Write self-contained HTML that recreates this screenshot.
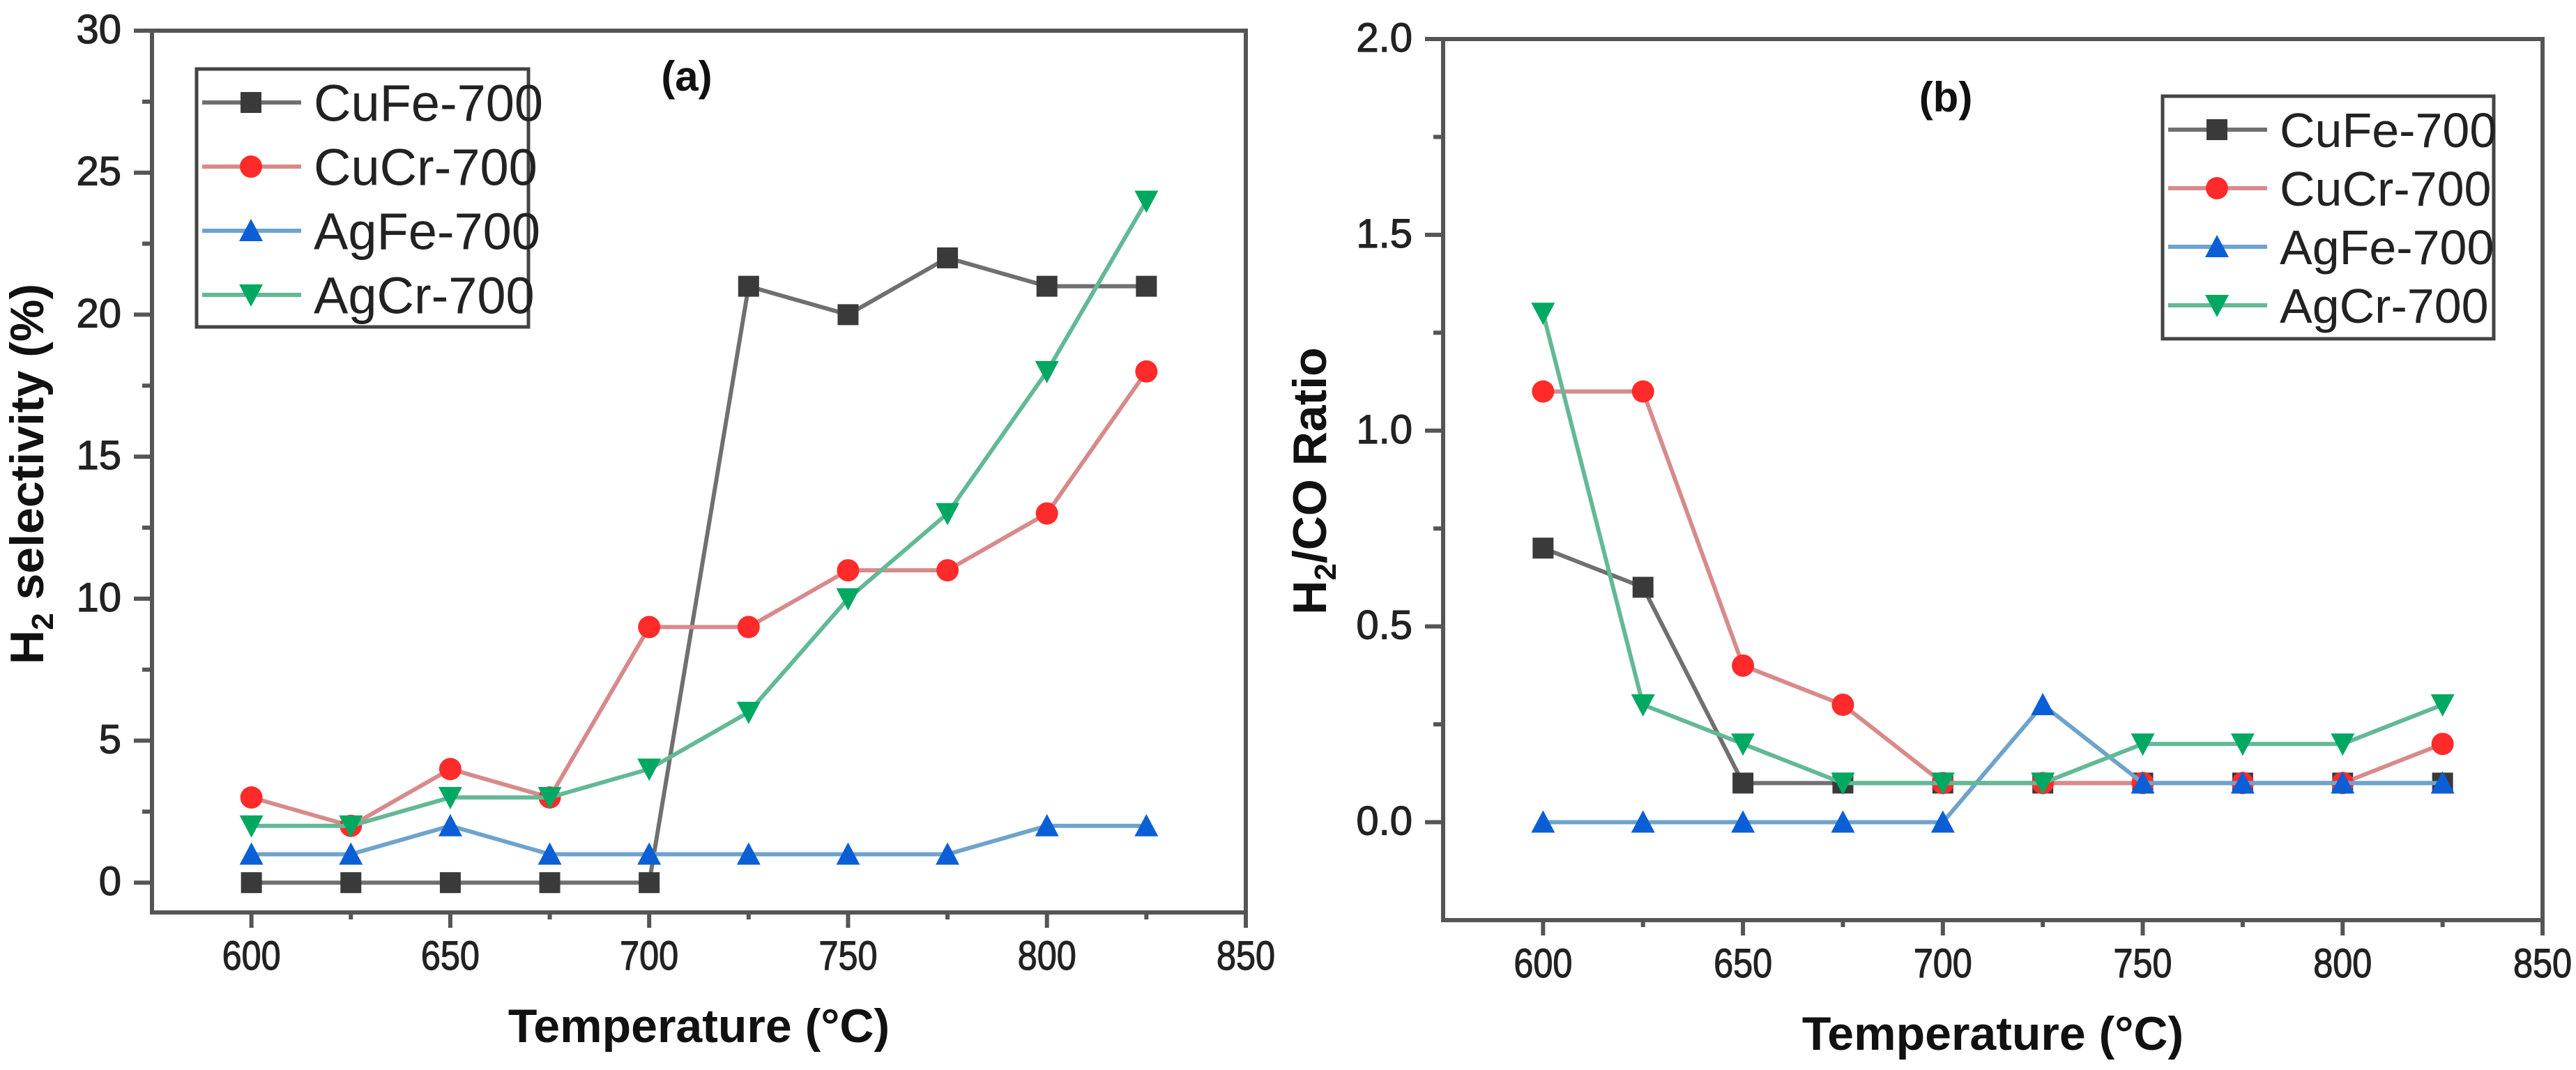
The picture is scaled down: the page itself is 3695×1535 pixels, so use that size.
<!DOCTYPE html>
<html><head><meta charset="utf-8"><style>
html,body{margin:0;padding:0;background:#fff;}
svg{display:block;}
text{font-family:"Liberation Sans",sans-serif;}
</style></head><body>
<svg id="fig" width="3695" height="1535" viewBox="0 0 3695 1535" xmlns="http://www.w3.org/2000/svg"></svg>
<script>
const temps = [600,625,650,675,700,725,750,775,800,825];
const seriesNames = ["CuFe-700","CuCr-700","AgFe-700","AgCr-700"];
const selCuFe = [0,0,0,0,0,21,20,22,21,21];
const selCuCr = [3,2,4,3,9,9,11,11,13,18];
const selAgFe = [1,1,2,1,1,1,1,1,2,2];
const selAgCr = [2,2,3,3,4,6,10,13,18,24];
const ratCuFe = [0.7,0.6,0.1,0.1,0.1,0.1,0.1,0.1,0.1,0.1];
const ratCuCr = [1.1,1.1,0.4,0.3,0.1,0.1,0.1,0.1,0.1,0.2];
const ratAgFe = [0,0,0,0,0,0.3,0.1,0.1,0.1,0.1];
const ratAgCr = [1.3,0.3,0.2,0.1,0.1,0.1,0.2,0.2,0.2,0.3];
const xTicks = [600,650,700,750,800,850];
const yTicksA = [0,5,10,15,20,25,30];
const yTicksB = [0,0.5,1.0,1.5,2.0];

const NS="http://www.w3.org/2000/svg";
const svg=document.getElementById('fig');
function el(tag,attrs,parent){const e=document.createElementNS(NS,tag);for(const k in attrs)e.setAttribute(k,attrs[k]);(parent||svg).appendChild(e);return e;}

const styles=[
 {line:"#707070",fill:"#3a3a3a",shape:"square"},
 {line:"#d88a8a",fill:"#ff2b2b",shape:"circle"},
 {line:"#6fa3cc",fill:"#0b5fd6",shape:"up"},
 {line:"#63b995",fill:"#00a862",shape:"down"}
];

function marker(g,shape,x,y,fill,name){
  let m; const s=15;
  if(shape==="square") m=el('rect',{x:x-s,y:y-s,width:2*s,height:2*s,fill:fill},g);
  else if(shape==="circle") m=el('circle',{cx:x,cy:y,r:s+1,fill:fill},g);
  else if(shape==="up") m=el('polygon',{points:`${x},${y-s-2} ${x+s+2},${y+s} ${x-s-2},${y+s}`,fill:fill},g);
  else m=el('polygon',{points:`${x-s-2},${y-s} ${x+s+2},${y-s} ${x},${y+s+2}`,fill:fill},g);
  
  
  return m;
}

function panel(cfg){
  const g=el('g',{});
  
  
  const L=cfg.L,R=cfg.R,T=cfg.T,B=cfg.B;
  const xs=v=>L+(v-575)/(850-575)*(R-L);
  const ys=v=>B-(v-cfg.ymin)/(cfg.ymax-cfg.ymin)*(B-T);
  const fr=el('rect',{x:L,y:T,width:R-L,height:B-T,fill:"none",stroke:"#555",'stroke-width':6},g);
  
  
  for(let v=600; v<=850; v+=25){
    const major=(v%50===0);
    const t=el('line',{x1:xs(v),x2:xs(v),y1:B,y2:B+(major?22:10),stroke:"#555",'stroke-width':6},g);
    
    
  }
  xTicks.forEach(v=>{
    const t=el('text',{x:xs(v),y:B+82,'text-anchor':'middle','font-size':58,fill:'#222',stroke:'#222','stroke-width':1.2,textLength:84,lengthAdjust:'spacingAndGlyphs'},g);
    t.textContent=v;
    
    
  });
  for(let i=0;i<cfg.yTicks.length;i++){
    const v=cfg.yTicks[i];
    const t=el('line',{x1:L-26,x2:L,y1:ys(v),y2:ys(v),stroke:"#555",'stroke-width':6},g);
    
    
    if(i<cfg.yTicks.length-1){
      const mv=(v+cfg.yTicks[i+1])/2;
      const mt=el('line',{x1:L-14,x2:L,y1:ys(mv),y2:ys(mv),stroke:"#555",'stroke-width':6},g);
      
      
    }
    const lab=el('text',{x:L-44,y:ys(v)+18,'text-anchor':'end','font-size':58,fill:'#222',stroke:'#222','stroke-width':1.2},g);
    lab.textContent=cfg.fmt(v);
    
    
  }
  const xt=el('text',{x:(L+R)/2,y:B+186,'text-anchor':'middle','font-size':68,'font-weight':'bold',fill:'#111'},g);
  xt.textContent="Temperature (°C)";
  
  
  const yt=el('text',{x:0,y:0,'text-anchor':'middle','font-size':68,'font-weight':'bold',fill:'#111',transform:`translate(${cfg.ytX},${cfg.ytY}) rotate(-90)`},g);
  yt.innerHTML=cfg.ytHTML;
  
  
  const pl=el('text',{x:cfg.plX,y:cfg.plY,'text-anchor':'middle','font-size':60,'font-weight':'bold',fill:'#111'},g);
  pl.textContent=cfg.label;
  
  
  cfg.data.forEach((arr,si)=>{
    const st=styles[si];
    const sg=el('g',{},g);
    
    
    const pts=arr.map((v,i)=>xs(temps[i])+","+ys(v)).join(" ");
    const pl2=el('polyline',{points:pts,fill:'none',stroke:st.line,'stroke-width':6},sg);
    
    
    arr.forEach((v,i)=>marker(sg,st.shape,xs(temps[i]),ys(v),st.fill,'data-point'));
  });
  const lg=el('g',{},g);
  
  
  const lb=el('rect',{x:cfg.lgX,y:cfg.lgY,width:cfg.lgW,height:cfg.lgH,fill:'#fff',stroke:'#444','stroke-width':5},lg);
  
  
  seriesNames.forEach((n,si)=>{
    const st=styles[si];
    const y=cfg.lgY+cfg.lgRow0+si*cfg.lgStep;
    const eg=el('g',{},lg);
    
    
    el('line',{x1:cfg.lgX+8,x2:cfg.lgX+150,y1:y,y2:y,stroke:st.line,'stroke-width':6},eg);
    marker(eg,st.shape,cfg.lgX+78,y,st.fill,'legend-marker');
    const t=el('text',{x:cfg.lgX+168,y:y+cfg.lgFs*0.36,'font-size':cfg.lgFs,fill:'#222'},eg);
    t.textContent=n;
  });
}

panel({name:'panel-a-h2-selectivity',L:218,R:1787,T:44,B:1309,ymin:-1.05,ymax:30,yTicks:yTicksA,fmt:v=>String(v),
  ytX:62,ytY:680,ytHTML:'H<tspan font-size="44" dy="14">2</tspan><tspan dy="-14"> selectivity (%)</tspan>',
  label:'(a)',plX:985,plY:130,data:[selCuFe,selCuCr,selAgFe,selAgCr],
  lgX:282,lgY:99,lgW:476,lgH:370,lgRow0:48,lgStep:92,lgFs:74});
panel({name:'panel-b-h2-co-ratio',L:2070,R:3647,T:56,B:1320,ymin:-0.25,ymax:2.0,yTicks:yTicksB,fmt:v=>v.toFixed(1),
  ytX:1902,ytY:690,ytHTML:'H<tspan font-size="44" dy="14">2</tspan><tspan dy="-14">/CO Ratio</tspan>',
  label:'(b)',plX:2791,plY:160,data:[ratCuFe,ratCuCr,ratAgFe,ratAgCr],
  lgX:3102,lgY:138,lgW:475,lgH:348,lgRow0:48,lgStep:84,lgFs:70});
</script>
</body></html>
